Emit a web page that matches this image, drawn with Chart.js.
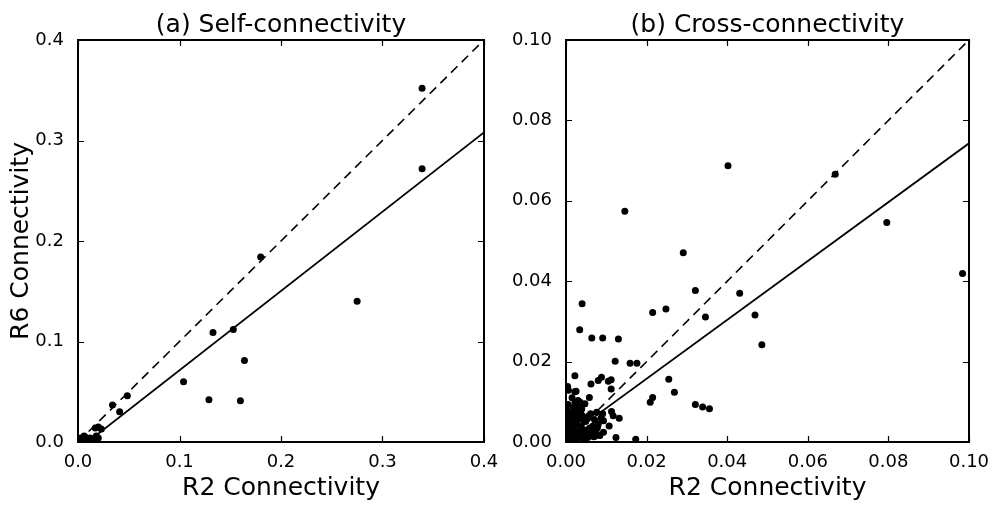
<!DOCTYPE html>
<html>
<head>
<meta charset="utf-8">
<script src="https://cdn.jsdelivr.net/npm/chart.js@4.4.0/dist/chart.umd.min.js"></script>
<style>
  html, body { margin: 0; padding: 0; background: #fff; }
  #wrap { position: relative; width: 998px; height: 509px; }
  canvas { position: absolute; top: 0; }
  #selfChart { left: 0; }
  #crossChart { left: 499px; }
</style>
</head>
<body>
<div id="wrap">
  <canvas id="selfChart" width="499" height="509"></canvas>
  <canvas id="crossChart" width="499" height="509"></canvas>
</div>
<script>
// (a) self-connectivity: R2 vs R6
const selfR2 = [0.339, 0.339, 0.180, 0.275, 0.133, 0.153, 0.164, 0.104, 0.129, 0.160,
  0.0486, 0.034, 0.041, 0.023, 0.017, 0.020,
  0.003, 0.005, 0.007, 0.009, 0.011, 0.013, 0.016, 0.018, 0.020, 0.004, 0.008, 0.015, 0.019, 0.006, 0.012];
const selfR6 = [0.352, 0.272, 0.184, 0.140, 0.109, 0.112, 0.081, 0.060, 0.042, 0.041,
  0.046, 0.0368, 0.030, 0.013, 0.014, 0.015,
  0.004, 0.002, 0.005, 0.003, 0.001, 0.002, 0.003, 0.006, 0.004, 0.001, 0.0005, 0.0005, 0.001, 0.006, 0.004];

// (b) cross-connectivity: R2 vs R6
const crossR2 = [0.0402, 0.0668, 0.0796, 0.0984, 0.0146, 0.0291, 0.0321, 0.0431, 0.0346, 0.0469,
  0.0486, 0.0215, 0.0248, 0.0040, 0.0034, 0.0064, 0.0091, 0.0130, 0.0122, 0.0159,
  0.0176, 0.0022, 0.0062, 0.0088, 0.0105, 0.0112, 0.0255, 0.0269, 0.0215, 0.0209,
  0.0321, 0.0339, 0.0356, 0.0173, 0.0124, 0.0058, 0.0022, 0.0004, 0.0112, 0.0080,
  0.0006, 0.0025, 0.0039, 0.0061, 0.0076, 0.0091, 0.0113, 0.0132, 0.0117, 0.0093,
  0.0107, 0.0078, 0.0093, 0.0072, 0.0051, 0.0035, 0.0047,
  0.0003, 0.0007, 0.0011, 0.0013, 0.0016, 0.0019, 0.0024, 0.0026, 0.0029, 0.0031,
  0.0036, 0.0038, 0.0043, 0.0045, 0.0049, 0.0052, 0.0055, 0.0058, 0.0002, 0.0005,
  0.0009, 0.0012, 0.0017, 0.0021, 0.0023, 0.0028, 0.0033, 0.0037, 0.0041, 0.0046,
  0.0050, 0.0054, 0.0004, 0.0008, 0.0010, 0.0015, 0.0018, 0.0020, 0.0027, 0.0032,
  0.0034, 0.0042, 0.0044, 0.0001, 0.0006, 0.0014, 0.0022, 0.0030, 0.0039, 0.0062,
  0.0066, 0.0069, 0.0071, 0.0075, 0.0080, 0.0084, 0.0087, 0.0044, 0.0031, 0.0015];
const crossR6 = [0.0687, 0.0666, 0.0546, 0.0419, 0.0574, 0.0471, 0.0377, 0.0370, 0.0311, 0.0316,
  0.0242, 0.0322, 0.0331, 0.0344, 0.0279, 0.0259, 0.0259, 0.0256, 0.0201, 0.0196,
  0.0196, 0.0165, 0.0144, 0.0161, 0.0151, 0.0155, 0.0156, 0.0124, 0.0111, 0.0099,
  0.0093, 0.0087, 0.0083, 0.0007, 0.0011, 0.0111, 0.0125, 0.0138, 0.0132, 0.0153,
  0.0129, 0.0126, 0.0082, 0.0070, 0.0074, 0.0070, 0.0076, 0.0059, 0.0065, 0.0053,
  0.0040, 0.0036, 0.0024, 0.0015, 0.0020, 0.0099, 0.0095,
  0.0006, 0.0013, 0.0023, 0.0009, 0.0031, 0.0017, 0.0044, 0.0005, 0.0026, 0.0057,
  0.0014, 0.0039, 0.0009, 0.0028, 0.0051, 0.0018, 0.0064, 0.0034, 0.0079, 0.0093,
  0.0071, 0.0045, 0.0056, 0.0040, 0.0075, 0.0067, 0.0088, 0.0063, 0.0022, 0.0058,
  0.0029, 0.0011, 0.0036, 0.0048, 0.0061, 0.0072, 0.0086, 0.0025, 0.0049, 0.0021,
  0.0073, 0.0012, 0.0054, 0.0019, 0.0027, 0.0004, 0.0097, 0.0103, 0.0067, 0.0025,
  0.0039, 0.0013, 0.0055, 0.0030, 0.0044, 0.0016, 0.0060, 0.0003, 0.0100, 0.0110];

// least-squares fit endpoints (x, y) and the y = x reference
const selfFitX = [0, 0.4];
const selfFitY = [-0.0075, 0.308];
const crossFitX = [0, 0.1];
const crossFitY = [0.0011, 0.0743];

const selfTickVals = [0, 0.1, 0.2, 0.3, 0.4];
const selfTickLabels = ['0.0', '0.1', '0.2', '0.3', '0.4'];
const crossTickVals = [0, 0.02, 0.04, 0.06, 0.08, 0.1];
const crossTickLabels = ['0.00', '0.02', '0.04', '0.06', '0.08', '0.10'];

Chart.defaults.font.family = "'DejaVu Sans', sans-serif";
Chart.defaults.color = '#000';

const toPoints = (xs, ys) => xs.map((x, i) => ({ x: x, y: ys[i] }));

// frame, inward ticks on all four sides, title and axis labels
const panelDecor = {
  id: 'panelDecor',
  afterDatasetsDraw(chart, args, opts) {
    const { ctx, chartArea: a, scales } = chart;
    ctx.save();
    ctx.strokeStyle = '#000';
    ctx.lineWidth = 1.2;
    ctx.beginPath();
    scales.x.ticks.forEach(t => {
      const px = Math.round(scales.x.getPixelForValue(t.value)) + 0.5;
      ctx.moveTo(px, a.bottom); ctx.lineTo(px, a.bottom - 6);
      ctx.moveTo(px, a.top); ctx.lineTo(px, a.top + 6);
    });
    scales.y.ticks.forEach(t => {
      const py = Math.round(scales.y.getPixelForValue(t.value)) + 0.5;
      ctx.moveTo(a.left, py); ctx.lineTo(a.left + 6, py);
      ctx.moveTo(a.right, py); ctx.lineTo(a.right - 6, py);
    });
    ctx.stroke();
    ctx.lineWidth = 2;
    ctx.strokeRect(a.left, a.top, a.right - a.left, a.bottom - a.top);

    ctx.fillStyle = '#000';
    ctx.font = "25px 'DejaVu Sans'";
    ctx.textAlign = 'center';
    ctx.textBaseline = 'alphabetic';
    const cx = (a.left + a.right) / 2;
    ctx.fillText(opts.title, cx, 32);
    ctx.fillText(opts.xTitle, cx, 495);
    if (opts.yTitle) {
      ctx.translate(28, (a.top + a.bottom) / 2);
      ctx.rotate(-Math.PI / 2);
      ctx.fillText(opts.yTitle, 0, 0);
    }
    ctx.restore();
  }
};

const makePanel = (canvasId, xs, ys, fitX, fitY, maxVal, tickVals, tickLabels, yWidth, padRight, decor) => {
  const setTicks = scale => { scale.ticks = tickVals.map(v => ({ value: v })); };
  return new Chart(document.getElementById(canvasId), {
    type: 'scatter',
    data: {
      datasets: [
        {
          data: toPoints(xs, ys),
          backgroundColor: '#000',
          borderWidth: 0,
          pointRadius: 3.5,
          clip: 0
        },
        {
          data: toPoints([0, maxVal], [0, maxVal]),
          showLine: true,
          borderColor: '#000',
          borderWidth: 1.6,
          borderDash: [9, 6],
          pointRadius: 0,
          clip: 0
        },
        {
          data: toPoints(fitX, fitY),
          showLine: true,
          borderColor: '#000',
          borderWidth: 1.8,
          pointRadius: 0,
          clip: 0
        }
      ]
    },
    options: {
      responsive: false,
      animation: false,
      layout: { padding: { top: 40, right: padRight, bottom: 0, left: 0 } },
      plugins: {
        legend: { display: false },
        tooltip: { enabled: false },
        panelDecor: decor
      },
      scales: {
        x: {
          type: 'linear',
          min: 0,
          max: maxVal,
          grid: { display: false },
          border: { display: false },
          afterBuildTicks: setTicks,
          afterFit: scale => {
            scale.height = 67;
            scale.paddingLeft = 0;
            scale.paddingRight = 0;
          },
          ticks: {
            padding: 2,
            maxRotation: 0,
            font: { size: 18 },
            callback: (v, i) => tickLabels[i]
          }
        },
        y: {
          type: 'linear',
          min: 0,
          max: maxVal,
          grid: { display: false },
          border: { display: false },
          afterBuildTicks: setTicks,
          afterFit: scale => {
            scale.width = yWidth;
            scale.paddingTop = 0;
            scale.paddingBottom = 0;
          },
          ticks: {
            padding: 6,
            font: { size: 18 },
            callback: (v, i) => tickLabels[i]
          }
        }
      }
    },
    plugins: [panelDecor]
  });
};

makePanel('selfChart', selfR2, selfR6, selfFitX, selfFitY, 0.4, selfTickVals, selfTickLabels, 78, 15,
  { title: '(a) Self-connectivity', xTitle: 'R2 Connectivity', yTitle: 'R6 Connectivity' });
makePanel('crossChart', crossR2, crossR6, crossFitX, crossFitY, 0.1, crossTickVals, crossTickLabels, 67, 29,
  { title: '(b) Cross-connectivity', xTitle: 'R2 Connectivity', yTitle: '' });
</script>
</body>
</html>
